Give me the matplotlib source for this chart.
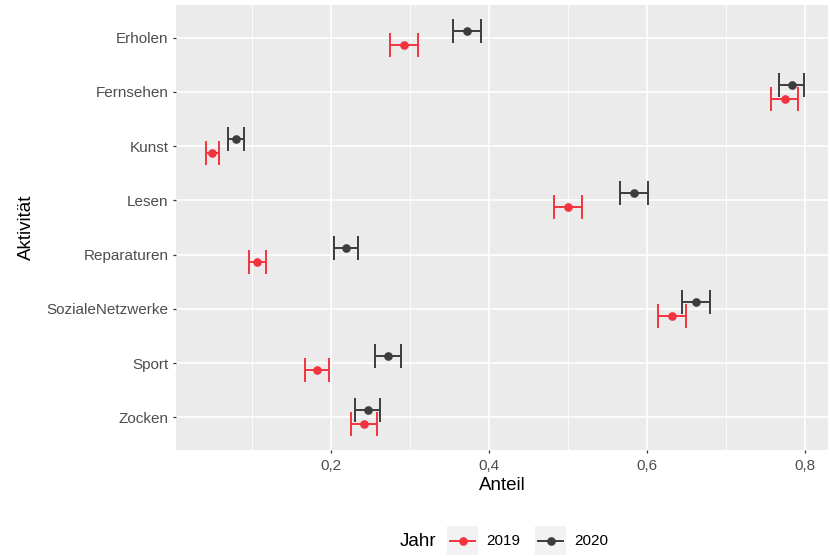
import numpy as np
import matplotlib.pyplot as plt
from matplotlib.lines import Line2D
from matplotlib.patches import Rectangle

plt.rcParams['font.family'] = ['Liberation Sans', 'DejaVu Sans']

# data
aktivitaet = ["Erholen", "Fernsehen", "Kunst", "Lesen", "Reparaturen",
              "SozialeNetzwerke", "Sport", "Zocken"]
anteil_2019 = [0.292, 0.774, 0.050, 0.500, 0.107, 0.632, 0.182, 0.242]
fehler_2019 = [0.0178, 0.0167, 0.0078, 0.0177, 0.0108, 0.0175, 0.0152, 0.0167]
anteil_2020 = [0.372, 0.783, 0.080, 0.5835, 0.219, 0.662, 0.2725, 0.2465]
fehler_2020 = [0.0178, 0.0156, 0.0099, 0.0180, 0.0152, 0.0173, 0.0167, 0.0154]
jahre = ["2019", "2020"]

RED = "#F3333F"
DARK = "#3D3D3D"
W, H = 830, 556

fig = plt.figure(figsize=(8.3, 5.56), dpi=100)
ax = fig.add_axes([176 / W, 1 - 450 / H, (828 - 176) / W, (450 - 5) / H])
ax.set_facecolor("#EBEBEB")
for s in ax.spines.values():
    s.set_visible(False)

y = np.arange(len(aktivitaet))
dodge = 0.13

# grid
ax.set_xticks([0.2, 0.4, 0.6, 0.8])
ax.set_xticks([0.1, 0.3, 0.5, 0.7], minor=True)
ax.set_xticklabels(["0,2", "0,4", "0,6", "0,8"])
ax.set_yticks(y)
ax.set_yticklabels(aktivitaet)
ax.grid(which="major", color="white", linewidth=1.2)
ax.grid(which="minor", axis="x", color="white", linewidth=0.6)
ax.set_axisbelow(True)

for vals, errs, col, off in [(anteil_2019, fehler_2019, RED, dodge),
                             (anteil_2020, fehler_2020, DARK, -dodge)]:
    ax.errorbar(vals, y + off, xerr=errs, fmt="o", color=col, ecolor=col,
                markersize=5.2, elinewidth=1.4, capsize=8.6, capthick=1.4)

ax.set_xlim(0.004, 0.829)
ax.set_ylim(len(aktivitaet) - 1 + 0.6, -0.6)

ax.tick_params(which="major", length=2.4, width=0.9, color="#333333",
               labelcolor="#4D4D4D", labelsize=11, pad=3)
ax.tick_params(which="minor", length=0)
ax.tick_params(axis="x", pad=4)

ax.set_xlabel("Anteil", fontsize=13.5, labelpad=3)
ax.set_ylabel("Aktivität", fontsize=13.5, labelpad=8)

# legend (drawn by hand to mimic ggplot layout)
def fy(p):
    return 1 - p / H

fig.text(400 / W, fy(541), "Jahr", fontsize=13.5, va="center", ha="left")
for i, (jahr, col) in enumerate(zip(jahre, [RED, DARK])):
    x0 = [447, 535][i]
    fig.patches.append(Rectangle((x0 / W, fy(555)), 31 / W, 29 / H,
                                 transform=fig.transFigure,
                                 facecolor="#F2F2F2", edgecolor="none"))
    fig.add_artist(Line2D([(x0 + 3) / W, (x0 + 28) / W], [fy(541), fy(541)],
                          transform=fig.transFigure, color=col, linewidth=1.4))
    fig.add_artist(Line2D([(x0 + 15.5) / W], [fy(541)], transform=fig.transFigure,
                          marker="o", markersize=5.2, color=col))
    fig.text((x0 + 39) / W, fy(541), jahr, fontsize=11, va="center", ha="left")

fig.savefig("out.png", dpi=100)
